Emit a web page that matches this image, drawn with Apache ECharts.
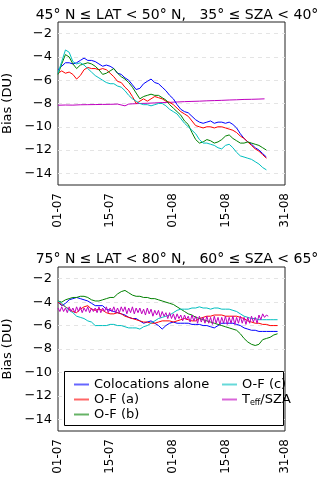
<!DOCTYPE html>
<html>
<head>
<meta charset="UTF-8">
<title>Bias</title>
<script src="https://cdn.jsdelivr.net/npm/echarts@6/dist/echarts.min.js"></script>
<style>
    html, body { margin: 0; padding: 0; background: #fff; }
    #chart { width: 320px; height: 479px; }
</style>
</head>
<body>
<div id="chart"></div>
<script>
// x is days since 01-07
var xTickDays = [0, 14, 31, 45, 61];
var xTickLabels = ['01-07', '15-07', '01-08', '15-08', '31-08'];
var yTicks = [-14, -12, -10, -8, -6, -4, -2];

var titleTop = '45° N ≤ LAT < 50° N,   35° ≤ SZA < 40°';
var titleBottom = '75° N ≤ LAT < 80° N,   60° ≤ SZA < 65°';
var names = ['Colocations alone', 'O-F (a)', 'O-F (b)', 'O-F (c)', 'Teff/SZA'];
var colors = ['#0000ff', '#ff0000', '#008000', '#00bfbf', '#bf00bf'];

// top panel, one value per day
var blueTop = [-5.1,-4.8,-4.5,-4.5,-4.6,-4.5,-4.3,-4.1,-4.3,-4.3,-4.4,-4.6,-4.8,-4.7,-4.8,-5.0,-5.4,-5.5,-5.8,-6.0,
    -6.4,-6.8,-6.7,-6.3,-6.1,-5.9,-6.2,-6.3,-6.6,-6.9,-7.3,-7.6,-8.1,-8.5,-8.7,-8.8,-9.1,-9.4,-9.6,-9.7,
    -9.6,-9.5,-9.7,-9.6,-9.6,-9.7,-9.6,-9.8,-10.1,-10.6,-11.0,-11.3,-11.5,-11.8,-12.0,-12.3,-12.6];
var redTop = [-5.4,-5.2,-5.4,-5.3,-5.5,-5.9,-5.6,-5.1,-4.9,-5.0,-5.0,-5.1,-5.0,-5.1,-5.4,-5.7,-6.1,-6.2,-6.6,-6.9,
    -7.4,-8.0,-7.8,-7.6,-7.8,-7.6,-7.4,-7.5,-7.6,-7.8,-7.9,-8.1,-8.4,-8.7,-8.9,-9.1,-9.5,-9.9,-10.0,-10.1,
    -10.0,-10.0,-10.1,-10.0,-10.0,-10.1,-10.2,-10.3,-10.5,-10.8,-11.0,-11.3,-11.6,-11.9,-12.1,-12.4,-12.7];
var greenTop = [-5.5,-4.6,-3.8,-4.0,-4.6,-5.0,-4.7,-4.6,-4.5,-4.6,-4.8,-5.1,-5.5,-5.4,-5.2,-5.0,-5.4,-5.7,-5.9,-6.2,
    -6.6,-7.1,-7.6,-7.4,-7.3,-7.2,-7.3,-7.3,-7.5,-7.7,-8.1,-8.4,-8.7,-9.0,-9.5,-9.8,-10.5,-11.1,-11.4,-11.3,
    -11.1,-11.2,-11.4,-11.3,-11.1,-10.8,-10.7,-11.0,-11.2,-11.4,-11.4,-11.3,-11.4,-11.5,-11.6,-11.8,-12.0];
var cyanTop = [-5.4,-4.4,-3.4,-3.6,-4.4,-4.6,-4.5,-4.7,-5.0,-5.3,-5.6,-5.8,-6.0,-6.2,-6.3,-6.3,-6.5,-6.6,-6.9,-7.3,
    -7.6,-7.8,-8.0,-8.1,-8.1,-8.2,-8.1,-8.0,-8.0,-8.2,-8.5,-8.7,-8.9,-9.3,-9.7,-10.0,-10.3,-10.6,-11.1,-11.4,
    -11.4,-11.5,-11.6,-11.8,-11.9,-11.6,-11.5,-11.8,-12.2,-12.5,-12.6,-12.7,-12.8,-13.0,-13.2,-13.5,-13.7];
var magDaysTop = [0,2,4,6,8,10,12,14,16,18,19,20,22,24,26,28,30,32,34,36,38,40,42,44,46,48,50,52,54,55.5];
var magTop = [-8.15,-8.13,-8.14,-8.11,-8.10,-8.09,-8.08,-8.07,-8.05,-8.20,-8.05,-8.03,-8.00,-7.98,-7.95,
    -7.92,-7.90,-7.87,-7.84,-7.82,-7.80,-7.77,-7.75,-7.73,-7.70,-7.68,-7.65,-7.64,-7.62,-7.60];

// bottom panel, one value per day
var blueBot = [-4.0,-4.3,-4.1,-3.8,-3.7,-3.6,-3.7,-3.8,-3.9,-4.1,-4.3,-4.3,-4.3,-4.6,-4.7,-4.8,-4.9,-5.0,-5.1,-5.3,
    -5.4,-5.4,-5.6,-5.8,-5.7,-5.6,-5.8,-6.0,-6.3,-6.0,-5.8,-5.7,-5.8,-5.8,-5.8,-5.8,-5.9,-5.9,-5.9,-6.0,
    -6.0,-6.1,-6.2,-6.0,-5.8,-5.8,-5.8,-5.8,-5.9,-6.0,-6.2,-6.3,-6.4,-6.4,-6.5,-6.5,-6.5,-6.5,-6.5,-6.5];
var redBot = [-4.0,-4.2,-4.4,-4.6,-4.8,-4.9,-4.6,-4.4,-4.3,-4.6,-4.7,-4.6,-4.7,-4.9,-5.0,-5.0,-4.9,-5.0,-5.2,-5.3,
    -5.4,-5.5,-5.6,-5.7,-5.7,-5.8,-5.8,-5.7,-5.6,-5.6,-5.6,-5.7,-5.6,-5.5,-5.4,-5.5,-5.6,-5.6,-5.4,-5.3,
    -5.2,-5.2,-5.1,-5.1,-5.1,-5.2,-5.2,-5.2,-5.2,-5.3,-5.4,-5.6,-5.7,-5.8,-5.8,-5.9,-5.9,-6.0,-6.0,-6.0];
var greenBot = [-3.9,-4.0,-3.8,-3.7,-3.6,-3.6,-3.5,-3.5,-3.6,-3.8,-3.9,-3.9,-3.8,-3.7,-3.6,-3.6,-3.3,-3.1,-3.0,-3.2,
    -3.4,-3.5,-3.5,-3.6,-3.6,-3.7,-3.7,-3.8,-3.9,-4.0,-4.1,-4.2,-4.4,-4.6,-4.8,-5.0,-5.1,-5.3,-5.4,-5.5,
    -5.6,-5.7,-5.8,-5.9,-6.0,-6.1,-6.2,-6.3,-6.4,-6.7,-7.1,-7.4,-7.6,-7.7,-7.6,-7.2,-7.1,-7.0,-6.8,-6.7];
var cyanBot = [-3.9,-4.1,-4.4,-4.7,-4.9,-5.2,-5.3,-5.4,-5.6,-5.7,-6.0,-6.0,-6.0,-6.0,-5.9,-5.9,-6.0,-6.0,-6.1,-6.2,
    -6.2,-6.2,-6.3,-6.1,-6.0,-5.8,-5.6,-5.4,-5.3,-5.2,-5.1,-4.9,-4.7,-4.6,-4.6,-4.6,-4.5,-4.5,-4.4,-4.5,
    -4.5,-4.6,-4.5,-4.5,-4.6,-4.6,-4.6,-4.7,-4.8,-5.0,-5.2,-5.3,-5.4,-5.4,-5.5,-5.5,-5.5,-5.5,-5.5,-5.5];
// magenta wiggles, two values per day (peak, trough)
var magBot = [-4.5,-4.8,-4.4,-4.8,-4.5,-4.9,-4.4,-4.8,-4.5,-4.9,-4.4,-4.8,-4.4,-4.9,-4.5,-4.8,-4.4,-4.9,-4.5,-4.8,
    -4.5,-4.9,-4.4,-4.9,-4.5,-4.8,-4.4,-4.9,-4.5,-4.8,-4.4,-4.9,-4.5,-4.9,-4.4,-4.8,-4.4,-5.0,-4.5,-4.9,
    -4.4,-5.0,-4.5,-4.9,-4.5,-5.0,-4.6,-5.1,-4.5,-5.0,-4.6,-5.2,-4.7,-5.1,-4.7,-5.3,-4.8,-5.2,-4.9,-5.4,
    -4.9,-5.4,-5.0,-5.5,-5.0,-5.4,-5.1,-5.6,-5.1,-5.5,-5.2,-5.7,-5.1,-5.6,-5.2,-5.8,-5.2,-5.7,-5.3,-5.8,
    -5.2,-5.8,-5.3,-5.9,-5.2,-5.8,-5.3,-5.9,-5.3,-5.8,-5.2,-5.9,-5.3,-5.8,-5.2,-5.9,-5.3,-5.8,-5.2,-5.8,
    -5.3,-5.9,-5.3,-5.8,-5.2,-5.7,-5.3,-5.8,-5.1,-5.5,-5.0,-5.3,-5.1,-5.2];

function perDay(arr) {
    return arr.map(function (v, i) { return [i, v]; });
}
function halfDay(arr) {
    return arr.map(function (v, i) { return [i / 2, v]; });
}
function withDays(days, arr) {
    return arr.map(function (v, i) { return [days[i], v]; });
}

var font = 'DejaVu Sans';

function xAxisFor(idx) {
    return {
        type: 'value', gridIndex: idx, min: 0, max: 61,
        axisLine: { show: false },
        axisTick: { show: false, customValues: xTickDays },
        splitLine: { show: false },
        axisLabel: {
            customValues: xTickDays, rotate: 90, margin: 8,
            color: '#000', fontFamily: font, fontSize: 12,
            formatter: function (v) { return xTickLabels[xTickDays.indexOf(v)]; }
        }
    };
}
function yAxisFor(idx) {
    return {
        type: 'value', gridIndex: idx, min: -15, max: -1,
        name: 'Bias (DU)', nameLocation: 'middle', nameGap: 37,
        nameTextStyle: { color: '#000', fontFamily: font, fontSize: 13 },
        axisLine: { show: false },
        axisTick: { show: false, customValues: yTicks },
        splitLine: { show: true, lineStyle: { color: '#e4e4e4', type: [4, 4], width: 1 } },
        axisLabel: {
            customValues: yTicks, margin: 6,
            color: '#000', fontFamily: font, fontSize: 13,
            formatter: function (v) { return String(v).replace('-', '\u2212'); }
        }
    };
}
function line(name, color, data, idx) {
    return {
        name: name, type: 'line', xAxisIndex: idx, yAxisIndex: idx,
        data: data, showSymbol: false, symbol: 'none',
        lineStyle: { color: color, width: 1 }, itemStyle: { color: color },
        z: 3
    };
}

var legendText = {
    color: '#000', fontFamily: font, fontSize: 13,
    rich: {
        t: { fontFamily: font, fontSize: 13, color: '#000' },
        s: { fontFamily: font, fontSize: 8, color: '#000', padding: [7, 0, 0, 0] }
    }
};
function legendFmt(n) {
    if (n === 'Teff/SZA') return '{t|T}{s|eff}{t|/SZA}';
    return n;
}

var chart = echarts.init(document.getElementById('chart'), null, { renderer: 'canvas' });
chart.setOption({
    animation: false,
    backgroundColor: '#fff',
    title: [
        { text: titleTop, left: 172, textAlign: 'center', top: 3,
          textStyle: { fontFamily: font, fontSize: 14, fontWeight: 'normal', color: '#000' } },
        { text: titleBottom, left: 172, textAlign: 'center', top: 247,
          textStyle: { fontFamily: font, fontSize: 14, fontWeight: 'normal', color: '#000' } }
    ],
    grid: [
        { left: 58, top: 22, width: 227, height: 163, show: true, borderColor: '#222', borderWidth: 1,
          containLabel: false, outerBoundsMode: 'none' },
        { left: 58, top: 267, width: 227, height: 164, show: true, borderColor: '#222', borderWidth: 1,
          containLabel: false, outerBoundsMode: 'none' }
    ],
    xAxis: [xAxisFor(0), xAxisFor(1)],
    yAxis: [yAxisFor(0), yAxisFor(1)],
    graphic: [{
        type: 'rect', z: 50,
        shape: { x: 64.5, y: 371.5, width: 219, height: 54 },
        style: { fill: '#fff', stroke: '#000', lineWidth: 1 }
    }],
    legend: [
        { data: names.slice(0, 3), orient: 'vertical', left: 69, top: 373, itemGap: 2,
          itemWidth: 15, itemHeight: 2, icon: 'rect', z: 60, itemStyle: { opacity: 0.6 },
          textStyle: legendText, formatter: legendFmt, selectedMode: false },
        { data: names.slice(3), orient: 'vertical', left: 217, top: 373, itemGap: 2,
          itemWidth: 15, itemHeight: 2, icon: 'rect', z: 60, itemStyle: { opacity: 0.6 },
          textStyle: legendText, formatter: legendFmt, selectedMode: false }
    ],
    series: [
        line(names[4], colors[4], withDays(magDaysTop, magTop), 0),
        line(names[0], colors[0], perDay(blueTop), 0),
        line(names[1], colors[1], perDay(redTop), 0),
        line(names[2], colors[2], perDay(greenTop), 0),
        line(names[3], colors[3], perDay(cyanTop), 0),
        line(names[0], colors[0], perDay(blueBot), 1),
        line(names[1], colors[1], perDay(redBot), 1),
        line(names[2], colors[2], perDay(greenBot), 1),
        line(names[3], colors[3], perDay(cyanBot), 1),
        line(names[4], colors[4], halfDay(magBot), 1)
    ]
});
</script>
</body>
</html>
